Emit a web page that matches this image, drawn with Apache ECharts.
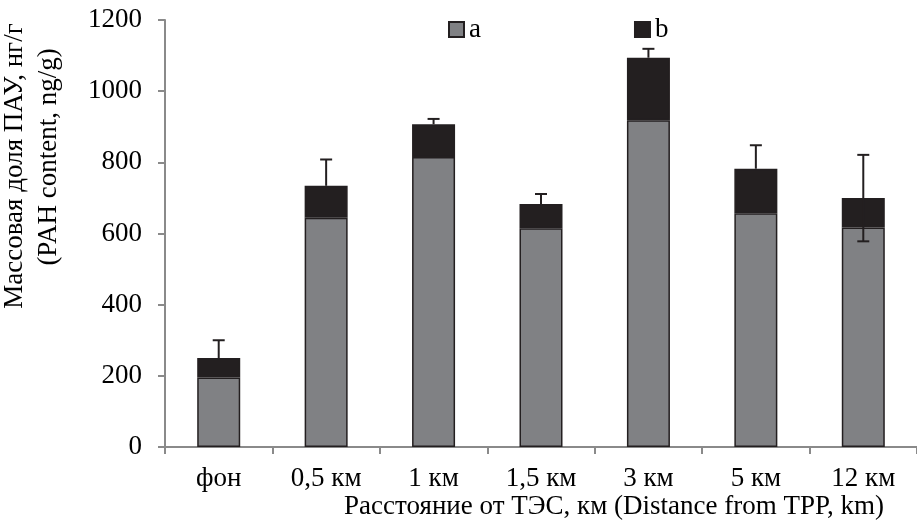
<!DOCTYPE html>
<html>
<head>
<meta charset="utf-8">
<script src="https://cdn.jsdelivr.net/npm/echarts@6/dist/echarts.min.js"></script>
<style>html,body{margin:0;padding:0;background:#fff}#c{width:917px;height:526px}</style>
</head>
<body>
<div id="c"></div>
<script>
const categories = ['фон', '0,5 км', '1 км', '1,5 км', '3 км', '5 км', '12 км'];
const seriesA = [195, 644, 815, 615, 918, 657, 617];
const seriesB = [55, 90, 92, 68, 176, 125, 83];
const errPlus = [50, 74, 15, 28, 25, 66, 121];
const errMinus = [0, 0, 0, 0, 0, 0, 122];
const yTicks = [0, 200, 400, 600, 800, 1000, 1200];
const yTitle = ['Массовая доля ПАУ, нг/г', '(PAH content, ng/g)'];
const xTitle = 'Расстояние от ТЭС, км (Distance from TPP, km)';

const FONT = '"Liberation Serif", "Times New Roman", serif';
const DARK = '#231f20';
const GREY = '#808184';
const AXIS = '#8a8a8a';

const totals = seriesA.map((v, i) => v + seriesB[i]);
const errData = categories.map((c, i) => [i, totals[i], errPlus[i], errMinus[i]]);

const chart = echarts.init(document.getElementById('c'), null, {renderer: 'canvas'});
chart.setOption({
  animation: false,
  backgroundColor: '#fff',
  textStyle: {fontFamily: FONT},
  grid: {left: 165, top: 20, width: 754, height: 427},
  legend: {
    left: 448, top: 16, padding: 0,
    itemWidth: 15, itemHeight: 15, itemGap: 153,
    icon: 'rect',
    textStyle: {fontFamily: FONT, fontSize: 27, color: '#000'},
    data: ['a', 'b']
  },
  xAxis: {
    type: 'category',
    data: categories,
    axisLine: {lineStyle: {color: AXIS, width: 2}},
    axisTick: {show: true, length: 7, lineStyle: {color: AXIS, width: 2}},
    axisLabel: {fontFamily: FONT, fontSize: 27, color: '#000', margin: 18, interval: 0}
  },
  yAxis: {
    type: 'value', min: yTicks[0], max: yTicks[yTicks.length - 1], interval: 200,
    axisLine: {show: true, lineStyle: {color: AXIS, width: 2}},
    axisTick: {show: true, length: 7, lineStyle: {color: AXIS, width: 2}},
    axisLabel: {fontFamily: FONT, fontSize: 27, color: '#000', margin: 23,
                formatter: function (v) { return String(v); }},
    splitLine: {show: false}
  },
  graphic: [
    {type: 'text', x: 15, y: 166, rotation: Math.PI / 2,
     style: {text: yTitle[0], font: '27px ' + FONT, fill: '#000', align: 'center', verticalAlign: 'middle'}},
    {type: 'text', x: 49, y: 157, rotation: Math.PI / 2,
     style: {text: yTitle[1], font: '27px ' + FONT, fill: '#000', align: 'center', verticalAlign: 'middle'}},
    {type: 'text', x: 614, y: 507,
     style: {text: xTitle, font: '27px ' + FONT, fill: '#000', align: 'center', verticalAlign: 'middle'}}
  ],
  series: [
    {name: 'a', type: 'bar', stack: 's', data: seriesA, barWidth: 43,
     itemStyle: {color: GREY, borderColor: DARK, borderWidth: 1.5}},
    {name: 'b', type: 'bar', stack: 's', data: seriesB, barWidth: 43,
     itemStyle: {color: DARK, borderColor: DARK, borderWidth: 1.5}},
    {name: 'err', type: 'custom', data: errData, z: 10,
     renderItem: function (params, api) {
       const x = api.value(0), t = api.value(1), up = api.value(2), dn = api.value(3);
       const pTop = api.coord([x, t + up]);
       const pBot = api.coord([x, t - dn]);
       const cap = 6;
       const st = {stroke: DARK, lineWidth: 2};
       const children = [
         {type: 'line', shape: {x1: pTop[0], y1: pTop[1], x2: pBot[0], y2: pBot[1]}, style: st},
         {type: 'line', shape: {x1: pTop[0] - cap, y1: pTop[1], x2: pTop[0] + cap, y2: pTop[1]}, style: st}
       ];
       if (dn > 0) children.push({type: 'line', shape: {x1: pBot[0] - cap, y1: pBot[1], x2: pBot[0] + cap, y2: pBot[1]}, style: st});
       return {type: 'group', children: children};
     }}
  ]
});
</script>
</body>
</html>
